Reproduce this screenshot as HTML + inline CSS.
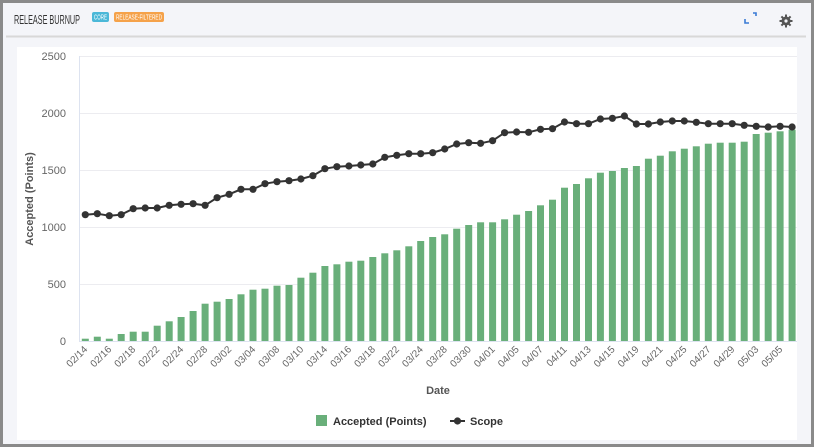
<!DOCTYPE html>
<html><head><meta charset="utf-8"><style>
html,body{margin:0;padding:0;width:815px;height:448px;overflow:hidden;background:#fff;}
svg{display:block;font-family:"Liberation Sans",sans-serif;}
</style></head><body>
<svg width="815" height="448" viewBox="0 0 815 448" xmlns="http://www.w3.org/2000/svg">
<rect x="0" y="0" width="815" height="448" fill="#ffffff"/>
<rect x="1.5" y="1.5" width="811" height="444" fill="#f4f5f9" stroke="#8a8a8a" stroke-width="3"/>
<line x1="6" y1="36.5" x2="806" y2="36.5" stroke="#d8d8d8" stroke-width="2"/>
<text x="14" y="24" font-size="13" fill="#333" textLength="66" lengthAdjust="spacingAndGlyphs">RELEASE BURNUP</text>
<rect x="92" y="12" width="17" height="10" rx="2" fill="#4bb8d8"/>
<text x="94" y="19.5" font-size="7" fill="#fff" textLength="13" lengthAdjust="spacingAndGlyphs">CORE</text>
<rect x="114" y="12" width="50" height="10" rx="2" fill="#f5a24a"/>
<text x="116" y="19.5" font-size="7" fill="#fff" textLength="46" lengthAdjust="spacingAndGlyphs">RELEASE-FILTERED</text>
<g stroke="#3a7bd5" stroke-width="1.6" fill="none"><path d="M745 19v4h4M753 13h3v3"/></g>
<g fill="#555"><circle cx="786" cy="21" r="4.5"/><rect x="785" y="14.5" width="2" height="13"/><rect x="779.5" y="20" width="13" height="2"/><rect x="785" y="14.5" width="2" height="13" transform="rotate(45 786 21)"/><rect x="785" y="14.5" width="2" height="13" transform="rotate(-45 786 21)"/></g>
<circle cx="786" cy="21" r="1.6" fill="#f4f5f9"/>
<rect x="17" y="47" width="780" height="393" fill="#ffffff"/>
<g stroke="#ececf0" stroke-width="1">
<line x1="79" y1="56.5" x2="797" y2="56.5"/>
<line x1="79" y1="113.5" x2="797" y2="113.5"/>
<line x1="79" y1="170.5" x2="797" y2="170.5"/>
<line x1="79" y1="227.5" x2="797" y2="227.5"/>
<line x1="79" y1="284.5" x2="797" y2="284.5"/>
</g>
<line x1="79.5" y1="56" x2="79.5" y2="341" stroke="#dde3f0"/>
<line x1="79" y1="341.5" x2="797" y2="341.5" stroke="#dde3f0"/>
<g font-size="11" fill="#666" text-anchor="end">
<text x="66" y="60">2500</text><text x="66" y="117">2000</text><text x="66" y="174">1500</text><text x="66" y="231">1000</text><text x="66" y="288">500</text><text x="66" y="345">0</text>
</g>
<text transform="translate(33,199) rotate(-90)" font-size="11" font-weight="bold" fill="#555" text-anchor="middle">Accepted (Points)</text>
<g fill="#69af7a">
<rect x="81.8" y="338.7" width="7" height="2.3"/><rect x="93.8" y="336.7" width="7" height="4.3"/><rect x="105.8" y="338.7" width="7" height="2.3"/><rect x="117.7" y="334" width="7" height="7"/><rect x="129.7" y="331.7" width="7" height="9.3"/><rect x="141.7" y="331.7" width="7" height="9.3"/><rect x="153.7" y="325.7" width="7" height="15.3"/><rect x="165.7" y="321.3" width="7" height="19.7"/><rect x="177.6" y="317" width="7" height="24"/><rect x="189.6" y="311" width="7" height="30"/>
<rect x="201.6" y="303.7" width="7" height="37.3"/><rect x="213.6" y="301.7" width="7" height="39.3"/><rect x="225.6" y="299" width="7" height="42"/><rect x="237.5" y="294.3" width="7" height="46.7"/><rect x="249.5" y="289.7" width="7" height="51.3"/><rect x="261.5" y="288.7" width="7" height="52.3"/><rect x="273.5" y="285.7" width="7" height="55.3"/><rect x="285.5" y="285" width="7" height="56"/><rect x="297.4" y="277.7" width="7" height="63.3"/><rect x="309.4" y="272.7" width="7" height="68.3"/>
<rect x="321.4" y="266" width="7" height="75"/><rect x="333.4" y="264.3" width="7" height="76.7"/><rect x="345.4" y="261.7" width="7" height="79.3"/><rect x="357.3" y="260.7" width="7" height="80.3"/><rect x="369.3" y="257" width="7" height="84"/><rect x="381.3" y="253.3" width="7" height="87.7"/><rect x="393.3" y="250.3" width="7" height="90.7"/><rect x="405.3" y="246.3" width="7" height="94.7"/><rect x="417.2" y="241" width="7" height="100"/><rect x="429.2" y="237" width="7" height="104"/>
<rect x="441.2" y="234.3" width="7" height="106.7"/><rect x="453.2" y="228.7" width="7" height="112.3"/><rect x="465.2" y="225" width="7" height="116"/><rect x="477.1" y="222.3" width="7" height="118.7"/><rect x="489.1" y="222.3" width="7" height="118.7"/><rect x="501.1" y="219.3" width="7" height="121.7"/><rect x="513.1" y="214.7" width="7" height="126.3"/><rect x="525.1" y="211" width="7" height="130"/><rect x="537" y="205.3" width="7" height="135.7"/><rect x="549" y="199.7" width="7" height="141.3"/>
<rect x="561" y="187.7" width="7" height="153.3"/><rect x="573" y="184" width="7" height="157"/><rect x="585" y="178.3" width="7" height="162.7"/><rect x="596.9" y="172.7" width="7" height="168.3"/><rect x="608.9" y="171" width="7" height="170"/><rect x="620.9" y="168" width="7" height="173"/><rect x="632.9" y="166" width="7" height="175"/><rect x="644.9" y="158.7" width="7" height="182.3"/><rect x="656.8" y="155.7" width="7" height="185.3"/><rect x="668.8" y="151.3" width="7" height="189.7"/>
<rect x="680.8" y="148.7" width="7" height="192.3"/><rect x="692.8" y="146.3" width="7" height="194.7"/><rect x="704.8" y="143.7" width="7" height="197.3"/><rect x="716.7" y="142.7" width="7" height="198.3"/><rect x="728.7" y="142.7" width="7" height="198.3"/><rect x="740.7" y="141.7" width="7" height="199.3"/><rect x="752.7" y="134" width="7" height="207"/><rect x="764.7" y="132.7" width="7" height="208.3"/><rect x="776.6" y="131.3" width="7" height="209.7"/><rect x="788.6" y="129.7" width="7" height="211.3"/>
</g>
<polyline fill="none" stroke="#333" stroke-width="2" points="85.3,214.7 97.3,213.7 109.3,215.7 121.2,214.7 133.2,208.7 145.2,208 157.2,208 169.2,205.3 181.1,204.3 193.1,203.7 205.1,205.3 217.1,197.7 229.1,194.3 241,189.3 253,189.3 265,183.7 277,181.7 289,180.7 300.9,179 312.9,175.7 324.9,168.7 336.9,166.7 348.9,166 360.8,165 372.8,164 384.8,157.3 396.8,155.3 408.8,153.7 420.7,153.7 432.7,152.7 444.7,149 456.7,144 468.7,142.7 480.6,143.3 492.6,140.7 504.6,132.7 516.6,132 528.6,132.3 540.5,129.3 552.5,128.7 564.5,122 576.5,123.7 588.5,123.7 600.4,119 612.4,118.3 624.4,116 636.4,124 648.4,124 660.3,122 672.3,121 684.3,121 696.3,122.3 708.3,123.7 720.2,123.7 732.2,123.7 744.2,125.3 756.2,126.3 768.2,127 780.1,126.3 792.1,127"/>
<g fill="#333">
<circle cx="85.3" cy="214.7" r="3.6"/><circle cx="97.3" cy="213.7" r="3.6"/><circle cx="109.3" cy="215.7" r="3.6"/><circle cx="121.2" cy="214.7" r="3.6"/><circle cx="133.2" cy="208.7" r="3.6"/><circle cx="145.2" cy="208" r="3.6"/><circle cx="157.2" cy="208" r="3.6"/><circle cx="169.2" cy="205.3" r="3.6"/><circle cx="181.1" cy="204.3" r="3.6"/><circle cx="193.1" cy="203.7" r="3.6"/>
<circle cx="205.1" cy="205.3" r="3.6"/><circle cx="217.1" cy="197.7" r="3.6"/><circle cx="229.1" cy="194.3" r="3.6"/><circle cx="241" cy="189.3" r="3.6"/><circle cx="253" cy="189.3" r="3.6"/><circle cx="265" cy="183.7" r="3.6"/><circle cx="277" cy="181.7" r="3.6"/><circle cx="289" cy="180.7" r="3.6"/><circle cx="300.9" cy="179" r="3.6"/><circle cx="312.9" cy="175.7" r="3.6"/>
<circle cx="324.9" cy="168.7" r="3.6"/><circle cx="336.9" cy="166.7" r="3.6"/><circle cx="348.9" cy="166" r="3.6"/><circle cx="360.8" cy="165" r="3.6"/><circle cx="372.8" cy="164" r="3.6"/><circle cx="384.8" cy="157.3" r="3.6"/><circle cx="396.8" cy="155.3" r="3.6"/><circle cx="408.8" cy="153.7" r="3.6"/><circle cx="420.7" cy="153.7" r="3.6"/><circle cx="432.7" cy="152.7" r="3.6"/>
<circle cx="444.7" cy="149" r="3.6"/><circle cx="456.7" cy="144" r="3.6"/><circle cx="468.7" cy="142.7" r="3.6"/><circle cx="480.6" cy="143.3" r="3.6"/><circle cx="492.6" cy="140.7" r="3.6"/><circle cx="504.6" cy="132.7" r="3.6"/><circle cx="516.6" cy="132" r="3.6"/><circle cx="528.6" cy="132.3" r="3.6"/><circle cx="540.5" cy="129.3" r="3.6"/><circle cx="552.5" cy="128.7" r="3.6"/>
<circle cx="564.5" cy="122" r="3.6"/><circle cx="576.5" cy="123.7" r="3.6"/><circle cx="588.5" cy="123.7" r="3.6"/><circle cx="600.4" cy="119" r="3.6"/><circle cx="612.4" cy="118.3" r="3.6"/><circle cx="624.4" cy="116" r="3.6"/><circle cx="636.4" cy="124" r="3.6"/><circle cx="648.4" cy="124" r="3.6"/><circle cx="660.3" cy="122" r="3.6"/><circle cx="672.3" cy="121" r="3.6"/>
<circle cx="684.3" cy="121" r="3.6"/><circle cx="696.3" cy="122.3" r="3.6"/><circle cx="708.3" cy="123.7" r="3.6"/><circle cx="720.2" cy="123.7" r="3.6"/><circle cx="732.2" cy="123.7" r="3.6"/><circle cx="744.2" cy="125.3" r="3.6"/><circle cx="756.2" cy="126.3" r="3.6"/><circle cx="768.2" cy="127" r="3.6"/><circle cx="780.1" cy="126.3" r="3.6"/><circle cx="792.1" cy="127" r="3.6"/>
</g>
<g font-size="10" fill="#666" text-anchor="end">
<text transform="translate(88,350) rotate(-45)">02/14</text>
<text transform="translate(112,350) rotate(-45)">02/16</text>
<text transform="translate(136,350) rotate(-45)">02/18</text>
<text transform="translate(160,350) rotate(-45)">02/22</text>
<text transform="translate(184,350) rotate(-45)">02/24</text>
<text transform="translate(208,350) rotate(-45)">02/28</text>
<text transform="translate(232,350) rotate(-45)">03/02</text>
<text transform="translate(256,350) rotate(-45)">03/04</text>
<text transform="translate(280,350) rotate(-45)">03/08</text>
<text transform="translate(304,350) rotate(-45)">03/10</text>
<text transform="translate(327.9,350) rotate(-45)">03/14</text>
<text transform="translate(351.9,350) rotate(-45)">03/16</text>
<text transform="translate(375.8,350) rotate(-45)">03/18</text>
<text transform="translate(399.8,350) rotate(-45)">03/22</text>
<text transform="translate(423.7,350) rotate(-45)">03/24</text>
<text transform="translate(447.7,350) rotate(-45)">03/28</text>
<text transform="translate(471.7,350) rotate(-45)">03/30</text>
<text transform="translate(495.6,350) rotate(-45)">04/01</text>
<text transform="translate(519.6,350) rotate(-45)">04/05</text>
<text transform="translate(543.5,350) rotate(-45)">04/07</text>
<text transform="translate(567.5,350) rotate(-45)">04/11</text>
<text transform="translate(591.5,350) rotate(-45)">04/13</text>
<text transform="translate(615.4,350) rotate(-45)">04/15</text>
<text transform="translate(639.4,350) rotate(-45)">04/19</text>
<text transform="translate(663.3,350) rotate(-45)">04/21</text>
<text transform="translate(687.3,350) rotate(-45)">04/25</text>
<text transform="translate(711.3,350) rotate(-45)">04/27</text>
<text transform="translate(735.2,350) rotate(-45)">04/29</text>
<text transform="translate(759.2,350) rotate(-45)">05/03</text>
<text transform="translate(783.1,350) rotate(-45)">05/05</text>
</g>
<text x="438" y="394" font-size="11" font-weight="bold" fill="#555" text-anchor="middle">Date</text>
<rect x="316" y="415" width="11" height="11" fill="#69af7a"/>
<text x="333" y="425" font-size="11" font-weight="bold" fill="#333">Accepted (Points)</text>
<line x1="450" y1="421" x2="465" y2="421" stroke="#333" stroke-width="2"/>
<circle cx="457.5" cy="421" r="3.6" fill="#333"/>
<text x="470" y="425" font-size="11" font-weight="bold" fill="#333">Scope</text>
</svg>
</body></html>
